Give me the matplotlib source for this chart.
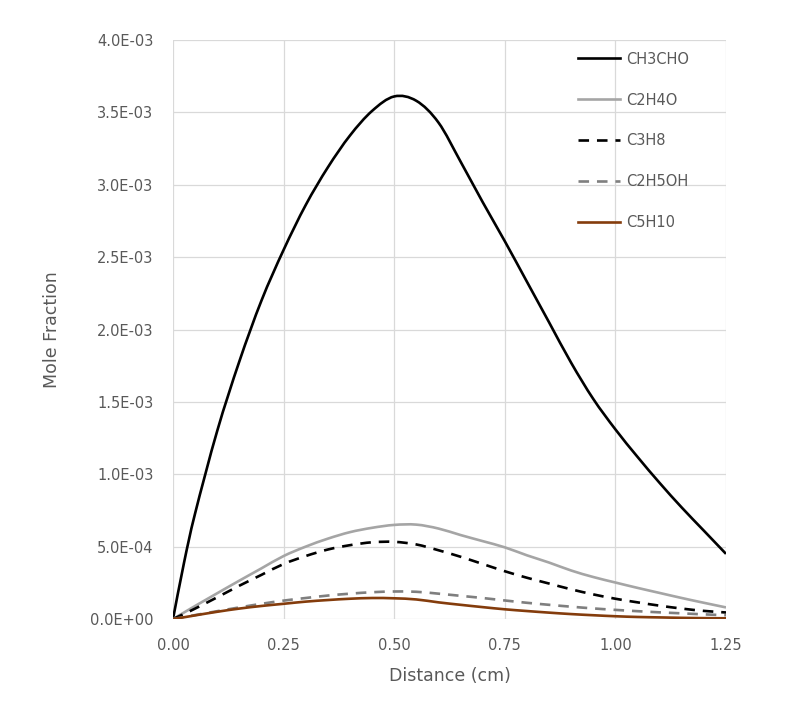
import matplotlib
matplotlib.use("Agg")
import matplotlib.pyplot as plt
from matplotlib.path import Path
from matplotlib.patches import PathPatch
from matplotlib.lines import Line2D
import numpy as np

# Distance (cm) sample points
distance = [0, 0.025, 0.05, 0.1, 0.15, 0.2, 0.25, 0.3, 0.35, 0.4, 0.45, 0.5, 0.55,
            0.6, 0.65, 0.7, 0.75, 0.8, 0.85, 0.9, 0.95, 1.0, 1.05, 1.1, 1.15, 1.2, 1.25]

# mole fractions (CH3CHO in 1e-3, the rest in 1e-4)
ch3cho = [0, 0.39, 0.73, 1.30, 1.78, 2.20, 2.55, 2.86, 3.12, 3.34, 3.51, 3.61, 3.58,
          3.43, 3.16, 2.88, 2.61, 2.33, 2.05, 1.77, 1.52, 1.31, 1.12, 0.94, 0.77, 0.61, 0.45]
c2h4o = [0, 0.45, 0.9, 1.78, 2.65, 3.5, 4.35, 5.0, 5.55, 6.0, 6.3, 6.5, 6.52,
         6.25, 5.8, 5.38, 4.95, 4.4, 3.9, 3.35, 2.9, 2.52, 2.15, 1.8, 1.45, 1.12, 0.8]
c3h8 = [0, 0.35, 0.72, 1.5, 2.3, 3.05, 3.8, 4.35, 4.8, 5.1, 5.3, 5.33, 5.15,
        4.75, 4.3, 3.8, 3.3, 2.85, 2.45, 2.05, 1.7, 1.4, 1.15, 0.92, 0.72, 0.56, 0.45]
c2h5oh = [0, 0.13, 0.27, 0.54, 0.8, 1.05, 1.27, 1.45, 1.62, 1.75, 1.85, 1.9, 1.88,
          1.75, 1.6, 1.45, 1.28, 1.12, 0.98, 0.85, 0.73, 0.63, 0.54, 0.46, 0.39, 0.32, 0.26]
c5h10 = [0, 0.12, 0.25, 0.5, 0.72, 0.9, 1.05, 1.2, 1.31, 1.4, 1.45, 1.43, 1.35,
         1.15, 0.98, 0.82, 0.67, 0.55, 0.44, 0.34, 0.26, 0.19, 0.14, 0.11, 0.08, 0.06, 0.05]

x_ticks = [0.0, 0.25, 0.5, 0.75, 1.0, 1.25]
y_ticks = [0, 0.0005, 0.001, 0.0015, 0.002, 0.0025, 0.003, 0.0035, 0.004]

text_col = "#595959"
plt.rcParams['font.family'] = ['DejaVu Sans']


def smooth_path(xs, ys):
    # Excel-style "smoothed line": cubic Bezier segments through the points
    p = np.column_stack([xs, ys])
    n = len(p)
    verts = [p[0]]
    codes = [Path.MOVETO]
    for i in range(n - 1):
        p0 = p[i - 1] if i > 0 else p[i]
        p3 = p[i + 2] if i + 2 < n else p[i + 1]
        c1 = p[i] + (p[i + 1] - p0) / 6
        c2 = p[i + 1] - (p3 - p[i]) / 6
        verts += [c1, c2, p[i + 1]]
        codes += [Path.CURVE4] * 3
    return Path(verts, codes)


fig = plt.figure(figsize=(7.9, 7.01), dpi=100)
ax = fig.add_axes([173/790, 1 - 619/701, 553/790, 579/701])

x = np.array(distance)
series = [
    ("CH3CHO", np.array(ch3cho) * 1e-3, "black", "-"),
    ("C2H4O", np.array(c2h4o) * 1e-4, "#a5a5a5", "-"),
    ("C3H8", np.array(c3h8) * 1e-4, "black", (0, (4, 3))),
    ("C2H5OH", np.array(c2h5oh) * 1e-4, "#7f7f7f", (0, (4, 3))),
    ("C5H10", np.array(c5h10) * 1e-4, "#843c0c", "-"),
]
handles = []
for name, y, col, ls in series:
    patch = PathPatch(smooth_path(x, y), fill=False, edgecolor=col, lw=1.9,
                      linestyle=ls, capstyle="butt", joinstyle="round")
    ax.add_patch(patch)
    handles.append(Line2D([], [], color=col, lw=1.9, linestyle=ls, label=name))

ax.set_xlim(0, 1.25)
ax.set_ylim(0, 0.004)
ax.set_xticks(x_ticks)
ax.set_xticklabels(["%.2f" % t for t in x_ticks])
ax.set_yticks(y_ticks)
ax.set_yticklabels(["%.1E" % t for t in y_ticks])
ax.grid(True, color="#d9d9d9", lw=0.9)
ax.set_axisbelow(True)
for s in ax.spines.values():
    s.set_visible(False)
ax.tick_params(length=0, labelsize=10.5, labelcolor=text_col)
ax.tick_params(axis="y", pad=14)
ax.tick_params(axis="x", pad=14)

ax.set_xlabel("Distance (cm)", fontsize=12.5, color=text_col, labelpad=10)
ax.set_ylabel("Mole Fraction", fontsize=12.5, color=text_col, labelpad=21)

leg = ax.legend(handles=handles, loc="upper left",
                bbox_to_anchor=((578 - 173) / 553, 0.98),
                frameon=False, fontsize=10.5, handlelength=2.9, handletextpad=0.4,
                labelspacing=1.78, borderpad=0, borderaxespad=0)
for t in leg.get_texts():
    t.set_color(text_col)

fig.savefig("out.png", dpi=100)
